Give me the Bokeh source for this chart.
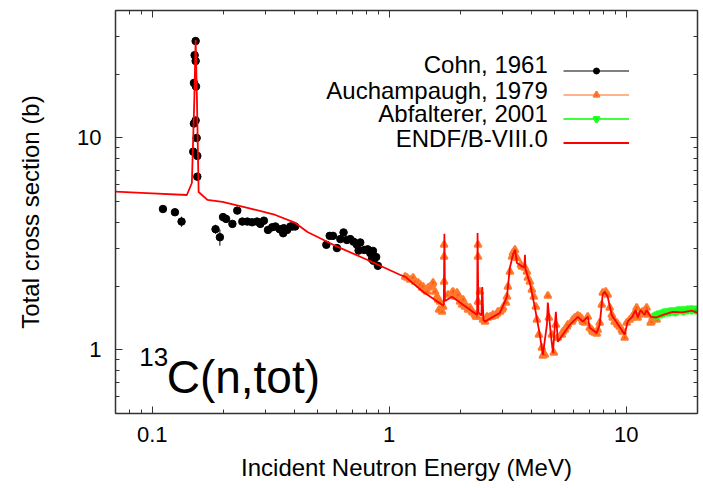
from bokeh.plotting import figure
from bokeh.models import (LogAxis, FixedTicker, CustomJSTickFormatter, Label,
                          Legend, LegendItem, Range1d)
from bokeh.embed import file_html
from bokeh.resources import INLINE

FONT = "Liberation Sans"

# ---------------- data (MeV, barns) ----------------
endf_E = [0.070, 0.100, 0.140, 0.147, 0.1505, 0.1525, 0.1545, 0.157, 0.171, 0.198,
          0.255, 0.331, 0.402, 0.452, 0.581, 0.807, 1.11, 1.17, 1.39, 1.67,
          1.70, 1.71, 1.72, 1.75, 1.84, 1.99, 2.35, 2.36, 2.38, 2.45,
          2.47, 2.50, 2.54, 2.74, 2.93, 3.14, 3.23, 3.33, 3.40, 3.46,
          3.67, 3.72, 3.74, 3.76, 3.93, 4.12, 4.32, 4.45, 4.63, 4.67,
          4.81, 4.91, 5.05, 5.15, 5.41, 5.78, 6.25, 6.56, 6.89, 7.02,
          7.51, 7.73, 7.96, 8.11, 8.36, 8.69, 9.39, 9.86, 10.15, 10.6,
          10.96, 11.2, 11.5, 11.96, 12.2, 12.7, 13.4, 14.3, 15.7, 17.3,
          18.9, 19.8, 20.0]
endf_xs = [5.58, 5.48, 5.38, 6.13, 15.0, 29.0, 15.0, 5.56, 5.10, 4.99,
           4.67, 4.33, 3.97, 3.60, 3.13, 2.66, 2.26, 2.21, 1.88, 1.63,
           1.63, 3.53, 1.70, 1.72, 1.78, 1.67, 1.46, 3.56, 1.50, 1.45,
           1.98, 1.38, 1.36, 1.43, 1.49, 1.78, 2.44, 2.81, 2.96, 2.57,
           2.46, 2.46, 2.81, 2.40, 2.05, 1.58, 1.18, 0.947, 1.31, 1.67,
           1.18, 0.968, 1.51, 1.09, 1.18, 1.31, 1.43, 1.36, 1.43, 1.27,
           1.20, 1.31, 1.82, 1.88, 1.78, 1.46, 1.28, 1.18, 1.36, 1.43,
           1.54, 1.42, 1.54, 1.46, 1.54, 1.43, 1.42, 1.46, 1.51, 1.50,
           1.53, 1.50, 1.50]

cohn_E = [0.111, 0.1247, 0.133,
          0.149, 0.150, 0.150, 0.151, 0.1525, 0.1525, 0.1525, 0.153, 0.154, 0.155, 0.155,
          0.185, 0.193,
          0.199, 0.205, 0.218, 0.2285, 0.240, 0.252, 0.264, 0.277, 0.286, 0.296,
          0.308, 0.321, 0.331, 0.345, 0.357, 0.359, 0.371, 0.383, 0.390, 0.401,
          0.543, 0.561, 0.579, 0.602, 0.622, 0.642, 0.663, 0.685, 0.707, 0.731,
          0.743, 0.755, 0.785, 0.811, 0.832, 0.846, 0.854, 0.859, 0.881, 0.896]
cohn_xs = [4.62, 4.46, 4.03,
           8.62, 11.7, 18.2, 24.6, 28.7, 23.1, 12.1, 17.5, 10.0, 8.23, 6.57,
           3.71, 3.40,
           4.23, 4.15, 3.93, 4.54, 4.03, 4.03, 4.00, 4.03, 3.93, 4.07,
           3.68, 3.79, 3.82, 3.71, 3.55, 3.75, 3.68, 3.82, 3.82, 3.82,
           3.13, 3.45, 3.45, 3.02, 3.33, 3.58, 3.30, 3.33, 3.24, 3.13,
           2.94, 3.21, 2.96, 2.98, 2.86, 2.68, 2.93, 2.63, 2.74, 2.49]
cohn_err = [0.10, 0.10, 0.22,
            0.25, 0.35, 0.5, 0.7, 0.8, 0.6, 0.35, 0.5, 0.3, 0.25, 0.2,
            0.18, 0.30,
            0.08, 0.08, 0.08, 0.08, 0.08, 0.08, 0.08, 0.08, 0.08, 0.08,
            0.08, 0.08, 0.08, 0.08, 0.08, 0.08, 0.08, 0.08, 0.08, 0.08,
            0.08, 0.08, 0.08, 0.08, 0.08, 0.08, 0.08, 0.08, 0.08, 0.08,
            0.08, 0.08, 0.08, 0.08, 0.08, 0.08, 0.08, 0.08, 0.08, 0.08]

auch_E = [1.168, 1.191, 1.226, 1.262, 1.287, 1.325, 1.351, 1.377, 1.391, 1.418,
          1.445, 1.459, 1.488, 1.517, 1.532, 1.562, 1.593, 1.608, 1.624, 1.640,
          1.672, 1.688, 1.705, 1.705, 1.705, 1.772, 1.842, 1.860, 1.896, 1.933,
          1.952, 1.991, 2.030, 2.049, 2.089, 2.130, 2.151, 2.193, 2.236, 2.258,
          2.302, 2.325, 2.347, 2.370, 2.370, 2.370, 2.416, 2.488, 2.537, 2.586,
          2.611, 2.663, 2.715, 2.742, 2.795, 2.850, 2.877, 2.934, 2.991, 3.020,
          3.109, 3.140, 3.170, 3.232, 3.296, 3.328, 3.393, 3.459, 3.596, 3.631,
          3.738, 3.811, 3.848, 3.924, 4.001, 4.079, 4.159, 4.200, 4.282, 4.408,
          4.451, 4.538, 4.672, 4.717, 4.856, 4.951, 5.049, 5.146, 5.350, 5.403,
          5.509, 5.617, 5.671, 5.895, 5.953, 6.069, 6.187, 6.248, 6.372, 6.496,
          6.560, 6.688, 6.886, 7.021, 7.155, 7.228, 7.367, 7.513, 7.586, 7.734,
          7.886, 7.963, 8.199, 8.360, 8.524, 8.691, 8.774, 8.948, 9.120, 9.210,
          9.389, 9.574, 9.667, 9.856, 10.05, 10.34, 10.55, 10.65, 10.86, 11.07,
          11.18, 11.40, 11.62, 11.74, 11.97, 12.20, 12.32, 12.68, 12.79, 12.93,
          13.18, 13.44]
auch_xs = [2.210, 2.186, 2.139, 2.186, 2.093, 2.070, 2.026, 1.961, 1.983, 1.919,
           1.877, 1.961, 1.983, 2.026, 2.070, 1.877, 1.778, 1.721, 1.544, 1.684,
           1.511, 1.596, 2.093, 2.746, 3.129, 1.817, 1.857, 1.877, 1.778, 1.857,
           1.817, 1.684, 1.631, 1.721, 1.596, 1.596, 1.544, 1.578, 1.511, 1.495,
           1.463, 1.431, 1.431, 1.684, 2.746, 3.129, 1.877, 1.385, 1.355, 1.431,
           1.416, 1.431, 1.431, 1.463, 1.447, 1.479, 1.511, 1.511, 1.544, 1.578,
           1.666, 1.778, 1.983, 2.333, 2.746, 2.868, 2.963, 2.716, 2.518, 2.464,
           2.437, 2.333, 2.186, 2.093, 1.919, 1.778, 1.596, 1.385, 1.177, 1.022,
           0.937, 0.947, 1.798, 1.416, 1.177, 0.968, 1.312, 1.139, 1.177, 1.216,
           1.243, 1.284, 1.312, 1.355, 1.385, 1.416, 1.431, 1.447, 1.431, 1.400,
           1.355, 1.341, 1.431, 1.270, 1.243, 1.216, 1.203, 1.190, 1.243, 1.341,
           1.631, 1.857, 1.877, 1.817, 1.578, 1.463, 1.416, 1.355, 1.341, 1.312,
           1.284, 1.243, 1.216, 1.139, 1.341, 1.385, 1.416, 1.431, 1.495, 1.578,
           1.416, 1.463, 1.495, 1.511, 1.528, 1.578, 1.463, 1.341, 1.355, 1.416,
           1.416, 1.385]

abf_E = [13.31, 13.57, 13.84, 14.11, 14.38, 14.67, 14.95, 15.25, 15.54, 15.85,
         16.16, 16.48, 16.80, 17.13, 17.46, 17.81, 18.16, 18.51, 18.87, 19.24, 19.62]
abf_xs = [1.447, 1.463, 1.479, 1.479, 1.495, 1.511, 1.511, 1.511, 1.528, 1.528,
          1.511, 1.528, 1.544, 1.544, 1.528, 1.544, 1.544, 1.561, 1.544, 1.561, 1.544]

x_major_ticks = [0.1, 1, 10]
x_minor_ticks = [0.07, 0.08, 0.09, 0.2, 0.3, 0.4, 0.5, 0.6, 0.7, 0.8, 0.9,
                 2, 3, 4, 5, 6, 7, 8, 9, 20]
y_major_ticks = [1, 10]
y_minor_ticks = [0.5, 0.6, 0.7, 0.8, 0.9, 2, 3, 4, 5, 6, 7, 8, 9, 20, 30, 40]

legend_labels = ["Cohn, 1961", "Auchampaugh, 1979", "Abfalterer, 2001", "ENDF/B-VIII.0"]

assert len(endf_E) == len(endf_xs)
assert len(cohn_E) == len(cohn_xs) == len(cohn_err)
assert len(auch_E) == len(auch_xs)
assert len(abf_E) == len(abf_xs)

# ---------------- figure ----------------
p = figure(width=703, height=488, x_axis_type="log", y_axis_type="log",
           x_range=Range1d(0.07, 20), y_range=Range1d(0.5, 40),
           output_backend="svg", toolbar_location=None,
           min_border_left=115, min_border_right=6, min_border_top=10, min_border_bottom=75)
p.grid.visible = False
p.outline_line_color = None
p.background_fill_color = "white"
p.border_fill_color = "white"

AX_COL = "#333333"


def style_axis(ax, major, minor, labels):
    ax.ticker = FixedTicker(ticks=major, minor_ticks=minor)
    ax.major_tick_in = 7
    ax.major_tick_out = 0
    ax.minor_tick_in = 4
    ax.minor_tick_out = 0
    ax.axis_line_color = AX_COL
    ax.axis_line_width = 1.5
    ax.major_tick_line_color = AX_COL
    ax.minor_tick_line_color = AX_COL
    ax.major_tick_line_width = 1
    ax.minor_tick_line_width = 1
    if labels:
        ax.formatter = CustomJSTickFormatter(code="return tick.toString()")
        ax.major_label_text_font = FONT
        ax.major_label_text_font_size = "22px"
        ax.major_label_text_color = "black"
    else:
        ax.formatter = CustomJSTickFormatter(code="return ''")
        ax.major_label_text_font_size = "0px"
        ax.major_label_standoff = 0


xb = p.below[0]
yl = p.left[0]
style_axis(xb, x_major_ticks, x_minor_ticks, True)
style_axis(yl, y_major_ticks, y_minor_ticks, True)
xb.major_label_standoff = 13
yl.major_label_standoff = 14

xb.axis_label = "Incident Neutron Energy (MeV)"
yl.axis_label = "Total cross section (b)"
for ax in (xb, yl):
    ax.axis_label_text_font = FONT
    ax.axis_label_text_font_size = "24px"
    ax.axis_label_text_font_style = "normal"
    ax.axis_label_text_color = "black"
xb.axis_label_standoff = 9
yl.axis_label_standoff = 30

top_ax = LogAxis()
right_ax = LogAxis()
style_axis(top_ax, x_major_ticks, x_minor_ticks, False)
style_axis(right_ax, y_major_ticks, y_minor_ticks, False)
p.add_layout(top_ax, "above")
p.add_layout(right_ax, "right")

# ---------------- data glyphs ----------------
cohn_lo = [v - e for v, e in zip(cohn_xs, cohn_err)]
cohn_hi = [v + e for v, e in zip(cohn_xs, cohn_err)]
cohn_seg = p.segment(x0=cohn_E, y0=cohn_lo, x1=cohn_E, y1=cohn_hi,
                     line_color="black", line_width=1)
cohn_sc = p.scatter(cohn_E, cohn_xs, marker="circle", size=7.5,
                    fill_color="black", line_color="black")

auch_sc = p.scatter(auch_E, auch_xs, marker="triangle", size=7,
                    fill_color="#FF5A00", line_color="#FF7A30", line_width=2)
abf_sc = p.scatter(abf_E, abf_xs, marker="inverted_triangle", size=7,
                   fill_color="#00DD00", line_color="#22FF22", line_width=2.5)

endf_ln = p.line(endf_E, endf_xs, line_color="#FF0000", line_width=1.8)

# legend-only line styles (error-bar colours); one NaN point so nothing is drawn
nan = float("nan")
auch_leg = p.line(x=[nan], y=[nan], line_color="#FF9966", line_width=1.5)
abf_leg = p.line(x=[nan], y=[nan], line_color="#00FF00", line_width=1.5)

legend = Legend(items=[
    LegendItem(label="", renderers=[cohn_seg, cohn_sc]),
    LegendItem(label="", renderers=[auch_leg, auch_sc]),
    LegendItem(label="", renderers=[abf_leg, abf_sc]),
    LegendItem(label="", renderers=[endf_ln]),
], location=(448, 259), orientation="vertical",
    glyph_width=66, glyph_height=15, label_height=24, label_width=0,
    label_standoff=0, padding=0, spacing=0, margin=0,
    border_line_color=None, background_fill_alpha=0,
    label_text_font_size="1px")
p.add_layout(legend)

# legend texts (right aligned, left of the sample glyphs)
leg_text_x = 4.67
leg_text_y = [22.17, 16.84, 13.01, 9.97]
for t, yv in zip(legend_labels, leg_text_y):
    p.add_layout(Label(x=leg_text_x, y=yv, text=t, text_align="right",
                       text_baseline="middle", text_font=FONT,
                       text_font_size="24px", text_color="black"))

# reaction label 13C(n,tot)
p.add_layout(Label(x=0.0882, y=0.924, text="13", text_align="left",
                   text_baseline="alphabetic", text_font=FONT,
                   text_font_size="26px", text_color="black"))
p.add_layout(Label(x=0.1151, y=0.746, text="C(n,tot)", text_align="left",
                   text_baseline="alphabetic", text_font=FONT,
                   text_font_size="46px", text_color="black"))

open("out.html", "w").write(file_html(p, INLINE))
